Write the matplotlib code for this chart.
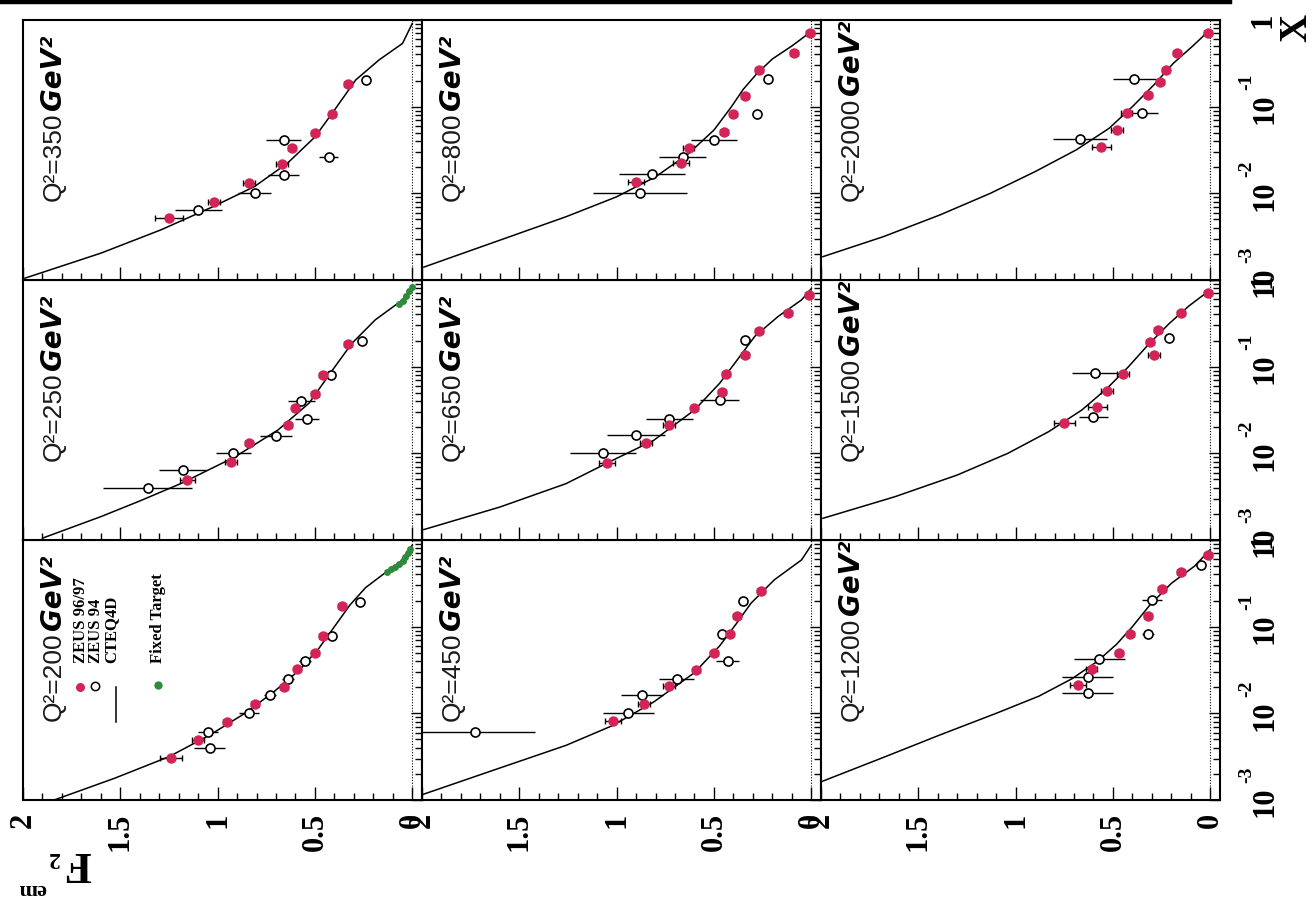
import numpy as np
import matplotlib
matplotlib.use("Agg")
import matplotlib.pyplot as plt
import matplotlib.transforms as mtransforms
from matplotlib.lines import Line2D
from matplotlib.ticker import FixedLocator, MultipleLocator, LogLocator, NullFormatter

# ---------------------------------------------------------------- data
Q2_VALUES = [200, 250, 350, 450, 650, 800, 1200, 1500, 2000]

# CTEQ4D curves (x, F2)
CTEQ_X_200 = [0.001, 0.00178, 0.00316, 0.00562, 0.01, 0.0178, 0.0316, 0.0562, 0.1, 0.178, 0.282, 0.417, 0.562, 0.871]
CTEQ_F2_200 = [1.84, 1.53, 1.25, 1.04, 0.86, 0.71, 0.58, 0.48, 0.40, 0.32, 0.24, 0.14, 0.06, 0.0]
CTEQ_X_250 = [0.00105, 0.00186, 0.00282, 0.00447, 0.00912, 0.0186, 0.0380, 0.0912, 0.186, 0.347, 0.589, 0.832]
CTEQ_F2_250 = [1.90, 1.60, 1.40, 1.19, 0.91, 0.69, 0.53, 0.41, 0.31, 0.19, 0.05, 0.0]
CTEQ_X_350 = [0.00105, 0.00204, 0.00380, 0.00708, 0.0120, 0.0224, 0.0447, 0.0912, 0.204, 0.347, 0.537, 0.912]
CTEQ_F2_350 = [1.99, 1.60, 1.29, 1.02, 0.81, 0.64, 0.50, 0.40, 0.29, 0.17, 0.05, 0.0]
CTEQ_X_450 = [0.00115, 0.00234, 0.00427, 0.00724, 0.0135, 0.0295, 0.0603, 0.112, 0.186, 0.347, 0.589, 0.871]
CTEQ_F2_450 = [2.0, 1.60, 1.26, 1.02, 0.81, 0.60, 0.47, 0.38, 0.31, 0.19, 0.05, 0.0]
CTEQ_X_650 = [0.00132, 0.00240, 0.00447, 0.00832, 0.0141, 0.0316, 0.0646, 0.120, 0.224, 0.380, 0.589, 0.794]
CTEQ_F2_650 = [1.99, 1.60, 1.26, 1.02, 0.81, 0.60, 0.47, 0.38, 0.29, 0.17, 0.05, 0.0]
CTEQ_X_800 = [0.00141, 0.00288, 0.00537, 0.00912, 0.0155, 0.0288, 0.0537, 0.1, 0.158, 0.240, 0.355, 0.501, 0.708]
CTEQ_F2_800 = [1.99, 1.60, 1.26, 1.0, 0.80, 0.63, 0.50, 0.41, 0.35, 0.28, 0.20, 0.10, 0.01]
CTEQ_X_1200 = [0.00162, 0.00316, 0.00562, 0.01, 0.0158, 0.0251, 0.0398, 0.0631, 0.1, 0.178, 0.316, 0.501, 0.776]
CTEQ_F2_1200 = [2.0, 1.67, 1.39, 1.10, 0.88, 0.71, 0.58, 0.48, 0.40, 0.31, 0.20, 0.08, 0.0]
CTEQ_X_1500 = [0.00178, 0.00316, 0.00562, 0.01, 0.0178, 0.0316, 0.0562, 0.1, 0.178, 0.316, 0.501, 0.741]
CTEQ_F2_1500 = [1.99, 1.62, 1.30, 1.04, 0.83, 0.66, 0.53, 0.42, 0.32, 0.21, 0.11, 0.01]
CTEQ_X_2000 = [0.00186, 0.00316, 0.00562, 0.01, 0.0178, 0.0316, 0.0562, 0.1, 0.178, 0.316, 0.501, 0.741]
CTEQ_F2_2000 = [1.99, 1.68, 1.39, 1.13, 0.90, 0.69, 0.52, 0.40, 0.29, 0.19, 0.09, 0.01]

# ZEUS 96/97 (x, F2, error)
Z97_X_200 = [0.00302, 0.00490, 0.00794, 0.0129, 0.0200, 0.0324, 0.0501, 0.0776, 0.174]
Z97_F2_200 = [1.24, 1.10, 0.95, 0.81, 0.66, 0.59, 0.50, 0.46, 0.36]
Z97_E_200 = [0.055, 0.03, 0.02, 0.02, 0.02, 0.02, 0.02, 0.02, 0.02]
Z97_X_250 = [0.00490, 0.00794, 0.0132, 0.0214, 0.0331, 0.0490, 0.0794, 0.182]
Z97_F2_250 = [1.155, 0.93, 0.84, 0.64, 0.60, 0.50, 0.46, 0.33]
Z97_E_250 = [0.04, 0.03, 0.02, 0.02, 0.02, 0.02, 0.02, 0.02]
Z97_X_350 = [0.00513, 0.00794, 0.0132, 0.0219, 0.0331, 0.0501, 0.0832, 0.182]
Z97_F2_350 = [1.25, 1.02, 0.84, 0.67, 0.62, 0.50, 0.41, 0.33]
Z97_E_350 = [0.07, 0.03, 0.03, 0.03, 0.02, 0.02, 0.02, 0.02]
Z97_X_450 = [0.00813, 0.0129, 0.0209, 0.0316, 0.0501, 0.0813, 0.132, 0.257]
Z97_F2_450 = [1.02, 0.86, 0.73, 0.59, 0.50, 0.42, 0.38, 0.26]
Z97_E_450 = [0.04, 0.03, 0.03, 0.02, 0.02, 0.02, 0.02, 0.02]
Z97_X_650 = [0.00776, 0.0132, 0.0214, 0.0331, 0.0513, 0.0832, 0.135, 0.257, 0.417, 0.676]
Z97_F2_650 = [1.05, 0.85, 0.73, 0.60, 0.46, 0.44, 0.34, 0.27, 0.12, 0.01]
Z97_E_650 = [0.04, 0.03, 0.03, 0.02, 0.02, 0.02, 0.02, 0.02, 0.02, 0.02]
Z97_X_800 = [0.0135, 0.0224, 0.0331, 0.0513, 0.0832, 0.132, 0.263, 0.417, 0.708]
Z97_F2_800 = [0.90, 0.67, 0.63, 0.45, 0.40, 0.34, 0.27, 0.09, 0.005]
Z97_E_800 = [0.04, 0.04, 0.03, 0.02, 0.02, 0.02, 0.02, 0.02, 0.02]
Z97_X_1200 = [0.0214, 0.0324, 0.0501, 0.0832, 0.132, 0.269, 0.427, 0.676]
Z97_F2_1200 = [0.68, 0.61, 0.47, 0.41, 0.32, 0.25, 0.15, 0.01]
Z97_E_1200 = [0.04, 0.03, 0.02, 0.02, 0.02, 0.02, 0.02, 0.02]
Z97_X_1500 = [0.0224, 0.0347, 0.0525, 0.0832, 0.195, 0.135, 0.263, 0.417, 0.708]
Z97_F2_1500 = [0.75, 0.58, 0.53, 0.45, 0.31, 0.29, 0.27, 0.15, 0.01]
Z97_E_1500 = [0.055, 0.05, 0.03, 0.03, 0.02, 0.03, 0.02, 0.02, 0.02]
Z97_X_2000 = [0.0347, 0.0537, 0.0851, 0.135, 0.195, 0.263, 0.417, 0.708]
Z97_F2_2000 = [0.56, 0.48, 0.43, 0.32, 0.26, 0.23, 0.17, 0.01]
Z97_E_2000 = [0.05, 0.03, 0.03, 0.02, 0.02, 0.02, 0.02, 0.02]

# ZEUS 94 (x, F2, error)
Z94_X_200 = [0.00617, 0.00398, 0.0100, 0.0162, 0.0251, 0.0407, 0.0776, 0.191]
Z94_F2_200 = [1.05, 1.04, 0.84, 0.73, 0.64, 0.55, 0.41, 0.27]
Z94_E_200 = [0.05, 0.08, 0.05, 0.03, 0.03, 0.03, 0.02, 0.02]
Z94_X_250 = [0.00398, 0.00646, 0.0100, 0.0158, 0.0407, 0.0251, 0.0794, 0.200]
Z94_F2_250 = [1.36, 1.18, 0.92, 0.70, 0.57, 0.54, 0.42, 0.26]
Z94_E_250 = [0.23, 0.12, 0.09, 0.08, 0.07, 0.06, 0.02, 0.02]
Z94_X_350 = [0.00646, 0.0102, 0.0162, 0.0417, 0.0263, 0.204]
Z94_F2_350 = [1.10, 0.81, 0.66, 0.66, 0.43, 0.24]
Z94_E_350 = [0.12, 0.085, 0.08, 0.09, 0.05, 0.02]
Z94_X_450 = [0.00617, 0.0102, 0.0162, 0.0251, 0.0813, 0.0407, 0.200]
Z94_F2_450 = [1.73, 0.94, 0.87, 0.69, 0.46, 0.43, 0.35]
Z94_E_450 = [0.31, 0.13, 0.11, 0.09, 0.02, 0.06, 0.02]
Z94_X_650 = [0.0102, 0.0162, 0.0251, 0.0417, 0.204]
Z94_F2_650 = [1.07, 0.90, 0.73, 0.47, 0.34]
Z94_E_650 = [0.17, 0.15, 0.12, 0.10, 0.02]
Z94_X_800 = [0.0102, 0.0166, 0.0263, 0.0417, 0.0832, 0.209]
Z94_F2_800 = [0.88, 0.82, 0.66, 0.50, 0.28, 0.22]
Z94_E_800 = [0.24, 0.17, 0.12, 0.12, 0.02, 0.02]
Z94_X_1200 = [0.0170, 0.0263, 0.0427, 0.0832, 0.204, 0.513]
Z94_F2_1200 = [0.63, 0.63, 0.57, 0.32, 0.30, 0.05]
Z94_E_1200 = [0.13, 0.13, 0.13, 0.03, 0.05, 0.02]
Z94_X_1500 = [0.0263, 0.0851, 0.214]
Z94_F2_1500 = [0.60, 0.59, 0.21]
Z94_E_1500 = [0.075, 0.12, 0.02]
Z94_X_2000 = [0.0427, 0.0851, 0.209]
Z94_F2_2000 = [0.67, 0.35, 0.39]
Z94_E_2000 = [0.14, 0.08, 0.11]

# Fixed-target measurements (x, F2)
FT_X_200 = [0.427, 0.457, 0.490, 0.525, 0.575, 0.631, 0.708, 0.794]
FT_F2_200 = [0.13, 0.11, 0.09, 0.07, 0.05, 0.035, 0.02, 0.01]
FT_X_250 = [0.525, 0.575, 0.646, 0.741, 0.832]
FT_F2_250 = [0.07, 0.05, 0.03, 0.015, 0.0]

LEGEND_LABELS = ["ZEUS 96/97", "ZEUS 94", "CTEQ4D", "Fixed Target"]
F2_TICKS = [2, 1.5, 1, 0.5, 0]
F2_TICK_LABELS = ["2", "1.5", "1", "0.5", "0"]
X_TICKS = [1e-3, 1e-2, 1e-1, 1]
X_TICK_EXPONENTS = ["-3", "-2", "-1", None]

CURVES = {200: (CTEQ_X_200, CTEQ_F2_200), 250: (CTEQ_X_250, CTEQ_F2_250),
          350: (CTEQ_X_350, CTEQ_F2_350), 450: (CTEQ_X_450, CTEQ_F2_450),
          650: (CTEQ_X_650, CTEQ_F2_650), 800: (CTEQ_X_800, CTEQ_F2_800),
          1200: (CTEQ_X_1200, CTEQ_F2_1200), 1500: (CTEQ_X_1500, CTEQ_F2_1500),
          2000: (CTEQ_X_2000, CTEQ_F2_2000)}
ZEUS97 = {200: (Z97_X_200, Z97_F2_200, Z97_E_200), 250: (Z97_X_250, Z97_F2_250, Z97_E_250),
          350: (Z97_X_350, Z97_F2_350, Z97_E_350), 450: (Z97_X_450, Z97_F2_450, Z97_E_450),
          650: (Z97_X_650, Z97_F2_650, Z97_E_650), 800: (Z97_X_800, Z97_F2_800, Z97_E_800),
          1200: (Z97_X_1200, Z97_F2_1200, Z97_E_1200), 1500: (Z97_X_1500, Z97_F2_1500, Z97_E_1500),
          2000: (Z97_X_2000, Z97_F2_2000, Z97_E_2000)}
ZEUS94 = {200: (Z94_X_200, Z94_F2_200, Z94_E_200), 250: (Z94_X_250, Z94_F2_250, Z94_E_250),
          350: (Z94_X_350, Z94_F2_350, Z94_E_350), 450: (Z94_X_450, Z94_F2_450, Z94_E_450),
          650: (Z94_X_650, Z94_F2_650, Z94_E_650), 800: (Z94_X_800, Z94_F2_800, Z94_E_800),
          1200: (Z94_X_1200, Z94_F2_1200, Z94_E_1200), 1500: (Z94_X_1500, Z94_F2_1500, Z94_E_1500),
          2000: (Z94_X_2000, Z94_F2_2000, Z94_E_2000)}
FIXED = {200: (FT_X_200, FT_F2_200), 250: (FT_X_250, FT_F2_250)}

# ---------------------------------------------------------------- layout
W, H = 1315, 899
fig = plt.figure(figsize=(W / 100, H / 100), dpi=100)
fig.patch.set_facecolor("white")

SERIF = "Liberation Serif"
SANS = "Liberation Sans"
RED = "#d42356"
GREEN = "#2f8a3c"

COL_LEFT = [23, 422, 821]
ROW_TOP = [20, 280, 540]
PW, PH = 399, 260
# the page is turned a quarter turn: F2 runs right-to-left, x runs upward
GRID = {350: (0, 0), 800: (1, 0), 2000: (2, 0),
        250: (0, 1), 650: (1, 1), 1500: (2, 1),
        200: (0, 2), 450: (1, 2), 1200: (2, 2)}


def box(x0, y0, w, h):
    return [x0 / W, 1 - (y0 + h) / H, w / W, h / H]


def px(x, y):
    return x / W, 1 - y / H


for q2 in Q2_VALUES:
    c, r = GRID[q2]
    ax = fig.add_axes(box(COL_LEFT[c], ROW_TOP[r], PW, PH))
    ax.set_xlim(2.0, -0.05)
    ax.set_yscale("log")
    ax.set_ylim(1e-3, 1)
    for s in ax.spines.values():
        s.set_linewidth(1.5)

    ax.axvline(0, color="k", lw=0.8, ls=(0, (1, 1.5)), zorder=1)

    cx, cf = CURVES[q2]
    ax.plot(cf, cx, color="k", lw=1.1, zorder=3, solid_joinstyle="round")

    if q2 in FIXED:
        gx, gf = FIXED[q2]
        ax.plot(gf, gx, "o", color=GREEN, ms=5, mec="none", zorder=4)

    zx, zf, ze = ZEUS94[q2]
    ax.errorbar(zf, zx, xerr=ze, fmt="o", ms=6.5, mfc="white", mec="k", mew=1.2,
                ecolor="k", elinewidth=1.0, capsize=0, zorder=5)
    rx, rf, re = ZEUS97[q2]
    ax.errorbar(rf, rx, xerr=re, fmt="o", ms=7.5, mfc=RED, mec="none",
                ecolor="k", elinewidth=1.0, capsize=2.5, capthick=1.0, zorder=6)

    # F2 axis (horizontal)
    ax.xaxis.set_major_locator(FixedLocator(F2_TICKS))
    ax.xaxis.set_minor_locator(MultipleLocator(0.1))
    ax.tick_params(axis="x", which="both", direction="in", bottom=True, top=False,
                   labelbottom=False, width=1.0)
    ax.tick_params(axis="x", which="major", length=9.5)
    ax.tick_params(axis="x", which="minor", length=5)
    if r == 2:
        ax.set_xticks(F2_TICKS, F2_TICK_LABELS, rotation=90, fontsize=22,
                      fontweight="bold", family=SERIF)
        ax.tick_params(axis="x", labelbottom=True, pad=9)

    # x axis (vertical, log)
    ax.yaxis.set_major_locator(LogLocator(base=10, numticks=10))
    ax.yaxis.set_minor_locator(LogLocator(base=10, subs=np.arange(2, 10), numticks=20))
    ax.yaxis.set_minor_formatter(NullFormatter())
    ax.tick_params(axis="y", which="both", direction="in", left=False, right=True,
                   labelleft=False, labelright=False, width=1.0)
    ax.tick_params(axis="y", which="major", length=8)
    ax.tick_params(axis="y", which="minor", length=5)

    if c == 2:
        base = mtransforms.blended_transform_factory(ax.transAxes, ax.transData)
        for tick, expo in zip(X_TICKS, X_TICK_EXPONENTS):
            if expo is None:
                tr = base + mtransforms.ScaledTranslation(0.43, 0.0, fig.dpi_scale_trans)
                ax.text(1.0, tick, "1", transform=tr, rotation=90, ha="center", va="center",
                        fontsize=22, fontweight="bold", family=SERIF, clip_on=False)
            else:
                tr = base + mtransforms.ScaledTranslation(0.45, -0.02, fig.dpi_scale_trans)
                ax.text(1.0, tick, "10", transform=tr, rotation=90, ha="center", va="center",
                        fontsize=22, fontweight="bold", family=SERIF, clip_on=False)
                tr2 = base + mtransforms.ScaledTranslation(0.27, 0.25, fig.dpi_scale_trans)
                ax.text(1.0, tick, expo, transform=tr2, rotation=90, ha="center", va="center",
                        fontsize=14, fontweight="bold", family=SERIF, clip_on=False)

    # Q^2 label
    t1 = ax.text(0.078, 0.304, f"Q²={q2}", transform=ax.transAxes, rotation=90,
                 ha="center", va="bottom", fontsize=19, family=SANS, color="#1a1a1a")
    ax.annotate("GeV²", xy=(0.45, 1.0), xycoords=t1, xytext=(0, 2),
                textcoords="offset points", rotation=90, ha="center", va="bottom",
                fontsize=20, fontweight="bold", fontstyle="italic",
                family="DejaVu Sans", color="black")

    if q2 == 200:
        T = ax.transAxes
        ax.plot([0.143], [0.435], "o", ms=6.5, mfc=RED, mec="none", transform=T, clip_on=False)
        ax.plot([0.181], [0.437], "o", ms=6, mfc="white", mec="k", mew=1.1, transform=T, clip_on=False)
        ax.plot([0.232, 0.232], [0.435, 0.300], color="k", lw=1.1, transform=T, clip_on=False)
        ax.plot([0.338], [0.442], "o", ms=6, mfc=GREEN, mec="none", transform=T, clip_on=False)
        for xt, lab in zip([0.146, 0.183, 0.222, 0.338], LEGEND_LABELS):
            ax.text(xt, 0.527, lab, transform=T, rotation=90, ha="center", va="bottom",
                    fontsize=12, fontweight="bold", family=SERIF)

# axis titles
fig.text(*px(1297, 28), "X", rotation=90, ha="center", va="center",
         fontsize=28, fontweight="bold", family=SERIF)
fig.text(*px(78, 863), "F", rotation=180, ha="center", va="center",
         fontsize=32, fontweight="bold", family=SERIF)
fig.text(*px(53, 858), "2", rotation=180, ha="center", va="center",
         fontsize=17, fontweight="bold", family=SERIF)
fig.text(*px(32, 889), "em", rotation=180, ha="center", va="center",
         fontsize=16, fontweight="bold", family=SERIF)

# rule across the top of the page
fig.add_artist(Line2D([0, 1230 / W], [1 - 2 / H, 1 - 2 / H], color="k", lw=3.2,
                      transform=fig.transFigure))

fig.savefig("out.png", dpi=100, facecolor="white")
